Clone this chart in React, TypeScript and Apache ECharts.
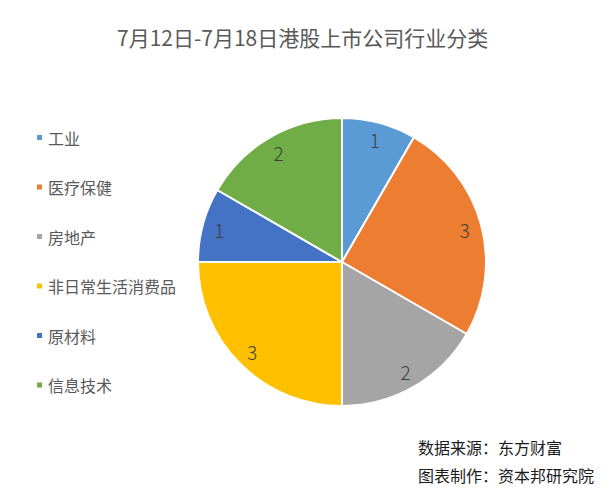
import React, { useEffect, useRef } from "react";
import * as echarts from "echarts";

const categories = ["工业", "医疗保健", "房地产", "非日常生活消费品", "原材料", "信息技术"];
const values = [1, 3, 2, 3, 1, 2];
const colors = ["#5B9BD5", "#ED7D31", "#A5A5A5", "#FFC000", "#4472C4", "#70AD47"];
const titleText = "7月12日-7月18日港股上市公司行业分类";
const footerLines = ["数据来源：东方财富", "图表制作：资本邦研究院"];

const FONT = "'Noto Sans CJK SC', 'Microsoft YaHei', sans-serif";

export default function App() {
  const ref = useRef<HTMLDivElement>(null);
  useEffect(() => {
    const chart = echarts.init(ref.current!, null, { renderer: "svg" });
    const data = categories.map((name, i) => ({
      name,
      value: values[i],
      itemStyle: { color: colors[i] },
    }));
    chart.setOption({
      animation: false,
      backgroundColor: "#ffffff",
      textStyle: { fontFamily: FONT },
      title: {
        text: titleText,
        left: 112,
        top: 21,
        textStyle: { fontFamily: FONT, fontSize: 21, fontWeight: "normal", color: "#595959" },
      },
      legend: {
        orient: "vertical",
        left: 30,
        top: 124,
        itemWidth: 7,
        itemHeight: 7,
        itemGap: 32.5,
        icon: "rect",
        textStyle: { fontFamily: FONT, fontSize: 16, color: "#595959", lineHeight: 17 },
        data: categories,
      },
      graphic: [
        {
          type: "text",
          left: 418,
          top: 439,
          style: { text: footerLines[0], fontFamily: FONT, fontSize: 16, fill: "#1a1a1a" },
        },
        {
          type: "text",
          left: 418,
          top: 467,
          style: { text: footerLines[1], fontFamily: FONT, fontSize: 16, fill: "#1a1a1a" },
        },
      ],
      series: [
        {
          type: "pie",
          center: [342, 262],
          radius: [0, 144],
          startAngle: 90,
          clockwise: true,
          label: { show: false },
          labelLine: { show: false },
          itemStyle: { borderColor: "#ffffff", borderWidth: 2 },
          emphasis: { disabled: true },
          data,
        },
        {
          type: "pie",
          center: [342, 262],
          radius: [104, 144],
          startAngle: 90,
          clockwise: true,
          silent: true,
          legendHoverLink: false,
          itemStyle: { color: "transparent", borderWidth: 0 },
          label: {
            show: true,
            position: "inside",
            formatter: "{c}",
            fontFamily: FONT,
            fontSize: 19,
            fontWeight: 300,
            color: "#404040",
          },
          labelLine: { show: false },
          emphasis: { disabled: true },
          data: categories.map((name, i) => ({
            name: name + " ",
            value: values[i],
            itemStyle: { color: "transparent" },
          })),
        },
      ],
    });
    return () => chart.dispose();
  }, []);
  return (
    <div
      ref={ref}
      style={{ position: "fixed", left: 0, top: 0, width: 613, height: 496 }}
    />
  );
}
